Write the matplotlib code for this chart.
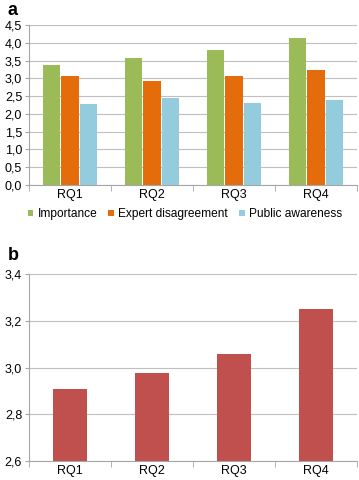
import matplotlib
matplotlib.use("Agg")
import matplotlib.pyplot as plt
import numpy as np
from matplotlib.ticker import FuncFormatter, FixedLocator

plt.rcParams['font.family'] = ['Liberation Sans', 'DejaVu Sans']

categories = ["RQ1", "RQ2", "RQ3", "RQ4"]
series_names = ["Importance", "Expert disagreement", "Public awareness"]
importance = [3.38, 3.56, 3.80, 4.13]
expert_disagreement = [3.06, 2.93, 3.06, 3.22]
public_awareness = [2.28, 2.44, 2.31, 2.39]
panel_b_values = [2.91, 2.975, 3.06, 3.25]

colors = ["#9BBB59", "#E46C0A", "#93CDDD"]
bar_red = "#C0504D"
grid_c = "#BFBFBF"
axis_c = "#A6A6A6"

fig = plt.figure(figsize=(3.59, 4.8), dpi=100)
comma = FuncFormatter(lambda v, p: f"{v:.1f}".replace(".", ","))

def style(ax):
    for s in ["top", "right"]:
        ax.spines[s].set_visible(False)
    ax.spines["left"].set_color(axis_c)
    ax.spines["bottom"].set_color(axis_c)
    ax.yaxis.grid(True, color=grid_c, linewidth=0.8)
    ax.set_axisbelow(True)
    ax.tick_params(axis="y", length=3, color=axis_c, labelsize=9, pad=2)
    ax.tick_params(axis="x", which="major", length=0, labelsize=9, pad=3)
    ax.tick_params(axis="x", which="minor", length=4, color=axis_c)
    n = len(categories)
    ax.set_xlim(-0.5, n - 0.5)
    ax.xaxis.set_minor_locator(FixedLocator(np.arange(-0.5, n, 1.0)))

# Panel a
ax1 = fig.add_axes([0.0808, 0.6146, 0.9136, 0.3334])
x = np.arange(len(categories))
w = 0.223
for i, (vals, c, name) in enumerate(zip([importance, expert_disagreement, public_awareness], colors, series_names)):
    ax1.bar(x + (i - 1) * w, vals, width=w * 0.95, color=c, label=name, zorder=2)
ax1.set_ylim(0, 4.5)
ax1.set_yticks(np.arange(0, 4.51, 0.5))
ax1.yaxis.set_major_formatter(comma)
ax1.set_xticks(x)
ax1.set_xticklabels(categories)
style(ax1)
leg = ax1.legend(loc="upper center", bbox_to_anchor=(0.475, -0.145), ncol=3, frameon=False,
                 fontsize=8.6, handlelength=0.5, handleheight=0.5, handletextpad=0.35,
                 columnspacing=0.9, borderaxespad=0, borderpad=0)

# Panel b
ax2 = fig.add_axes([0.0808, 0.0396, 0.9136, 0.3889])
ax2.bar(x, panel_b_values, width=0.41, color=bar_red, zorder=2)
ax2.set_ylim(2.6, 3.4)
ax2.set_yticks(np.arange(2.6, 3.41, 0.2))
ax2.yaxis.set_major_formatter(comma)
ax2.set_xticks(x)
ax2.set_xticklabels(categories)
style(ax2)

fig.text(0.022, 0.978, "a", fontsize=13, fontweight="bold", va="center", ha="left")
fig.text(0.022, 0.468, "b", fontsize=13, fontweight="bold", va="center", ha="left")

fig.savefig("out.png", dpi=100)
